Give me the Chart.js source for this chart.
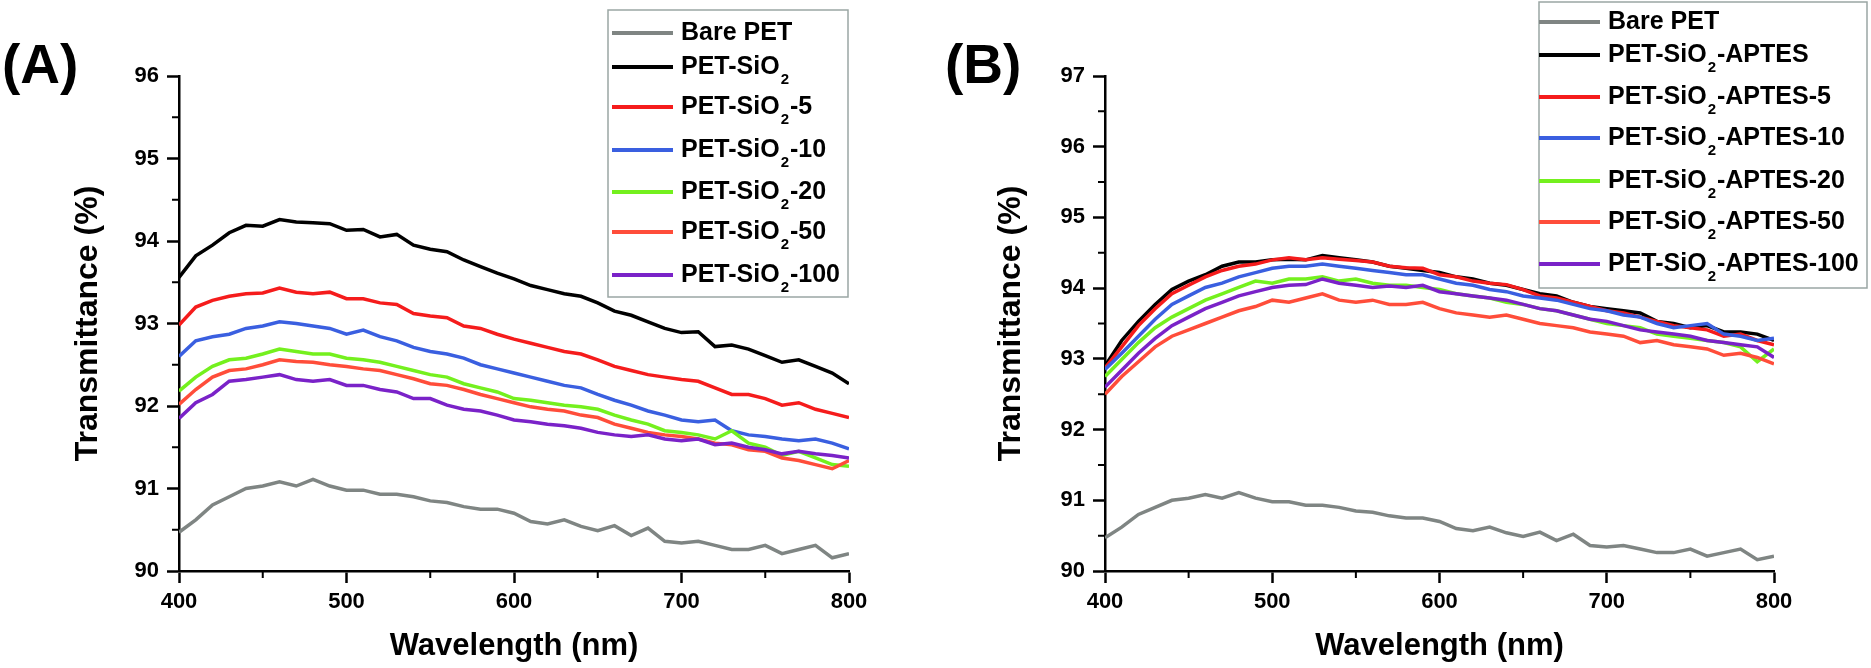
<!DOCTYPE html>
<html>
<head>
<meta charset="utf-8">
<title>Transmittance of PET films</title>
<script src="https://cdn.jsdelivr.net/npm/chart.js@4.4.1/dist/chart.umd.min.js"></script>
<style>
  body { margin: 0; background: #fff; }
  #wrap { width: 1871px; height: 668px; display: flex; }
  canvas { display: block; }
</style>
</head>
<body>
<div id="wrap">
  <canvas id="chartA" width="935" height="668"></canvas>
  <canvas id="chartB" width="936" height="668"></canvas>
</div>
<script>
var wavelength = [400,410,420,430,440,450,460,470,480,490,500,510,520,530,540,550,560,570,580,590,
  600,610,620,630,640,650,660,670,680,690,700,710,720,730,740,750,760,770,780,790,800];

var colors = ['#7f8583', '#000000', '#f51c1c', '#3a5fe0', '#74f01e', '#ff4d3a', '#7a22c8'];

// shared by both panels
var barePET = [90.47,90.62,90.8,90.9,91.0,91.03,91.08,91.03,91.11,91.03,
  90.98,90.98,90.93,90.93,90.9,90.85,90.83,90.78,90.75,90.75,
  90.7,90.6,90.57,90.62,90.54,90.49,90.55,90.43,90.52,90.36,
  90.34,90.36,90.31,90.26,90.26,90.31,90.21,90.26,90.31,90.16,90.21];

// panel A
var labelsA = ['Bare PET', 'PET-SiO₂', 'PET-SiO₂-5', 'PET-SiO₂-10', 'PET-SiO₂-20', 'PET-SiO₂-50', 'PET-SiO₂-100'];
var sio2 = [93.56,93.82,93.95,94.1,94.19,94.18,94.26,94.23,94.22,94.21,
  94.13,94.14,94.05,94.08,93.95,93.9,93.87,93.77,93.69,93.61,
  93.54,93.46,93.41,93.36,93.33,93.25,93.15,93.1,93.02,92.94,
  92.89,92.9,92.72,92.74,92.69,92.61,92.53,92.56,92.48,92.4,92.27];
var sio2_5 = [92.98,93.2,93.28,93.33,93.36,93.37,93.43,93.38,93.36,93.38,
  93.3,93.3,93.25,93.23,93.12,93.09,93.07,92.97,92.94,92.87,
  92.81,92.76,92.71,92.66,92.63,92.56,92.48,92.43,92.38,92.35,
  92.32,92.3,92.22,92.14,92.14,92.09,92.01,92.04,91.96,91.91,91.86];
var sio2_10 = [92.6,92.79,92.84,92.87,92.94,92.97,93.02,93.0,92.97,92.94,
  92.87,92.92,92.84,92.79,92.71,92.66,92.63,92.58,92.5,92.45,
  92.4,92.35,92.3,92.25,92.22,92.14,92.07,92.01,91.94,91.89,
  91.83,91.81,91.83,91.7,91.65,91.63,91.6,91.58,91.6,91.55,91.48];
var sio2_20 = [92.18,92.35,92.48,92.56,92.58,92.63,92.69,92.66,92.63,92.63,
  92.58,92.56,92.53,92.48,92.43,92.38,92.35,92.27,92.22,92.17,
  92.09,92.07,92.04,92.01,91.99,91.96,91.89,91.83,91.78,91.7,
  91.68,91.65,91.6,91.7,91.55,91.5,91.4,91.45,91.37,91.29,91.27];
var sio2_50 = [92.02,92.2,92.35,92.43,92.45,92.5,92.56,92.54,92.53,92.5,
  92.48,92.45,92.43,92.38,92.33,92.27,92.25,92.2,92.14,92.09,
  92.04,91.99,91.96,91.94,91.89,91.86,91.78,91.73,91.68,91.65,
  91.63,91.6,91.55,91.53,91.47,91.45,91.37,91.34,91.29,91.24,91.34];
var sio2_100 = [91.85,92.04,92.14,92.3,92.32,92.35,92.38,92.32,92.3,92.32,
  92.25,92.25,92.2,92.17,92.09,92.09,92.01,91.96,91.94,91.89,
  91.83,91.81,91.78,91.76,91.73,91.68,91.65,91.63,91.65,91.6,
  91.58,91.6,91.53,91.55,91.5,91.47,91.42,91.45,91.42,91.4,91.37];

// panel B
var labelsB = ['Bare PET', 'PET-SiO₂-APTES', 'PET-SiO₂-APTES-5', 'PET-SiO₂-APTES-10', 'PET-SiO₂-APTES-20', 'PET-SiO₂-APTES-50', 'PET-SiO₂-APTES-100'];
var aptes = [92.9,93.26,93.53,93.77,93.98,94.1,94.19,94.31,94.37,94.37,
  94.4,94.41,94.4,94.46,94.43,94.4,94.37,94.31,94.28,94.25,
  94.22,94.16,94.13,94.07,94.04,93.98,93.92,93.89,93.8,93.74,
  93.71,93.68,93.65,93.53,93.5,93.44,93.47,93.38,93.38,93.35,93.26];
var aptes_5 = [92.87,93.17,93.47,93.71,93.92,94.04,94.16,94.25,94.31,94.34,
  94.4,94.43,94.4,94.43,94.41,94.39,94.37,94.31,94.29,94.28,
  94.19,94.16,94.1,94.07,94.05,93.98,93.89,93.86,93.8,93.74,
  93.68,93.65,93.59,93.53,93.47,93.44,93.41,93.32,93.35,93.26,93.2];
var aptes_10 = [92.85,93.08,93.32,93.56,93.77,93.89,94.01,94.07,94.16,94.22,
  94.28,94.31,94.31,94.34,94.31,94.28,94.25,94.22,94.19,94.19,
  94.13,94.07,94.04,93.98,93.95,93.89,93.86,93.83,93.77,93.71,
  93.68,93.62,93.59,93.5,93.44,93.47,93.5,93.35,93.32,93.26,93.29];
var aptes_20 = [92.75,92.99,93.23,93.44,93.59,93.71,93.83,93.92,94.01,94.1,
  94.07,94.13,94.13,94.16,94.1,94.13,94.07,94.04,94.04,94.01,
  93.98,93.92,93.89,93.86,93.8,93.77,93.71,93.68,93.62,93.56,
  93.5,93.47,93.44,93.35,93.32,93.29,93.26,93.23,93.17,92.96,93.14];
var aptes_50 = [92.5,92.75,92.96,93.17,93.32,93.41,93.5,93.59,93.68,93.74,
  93.83,93.8,93.86,93.92,93.83,93.8,93.83,93.77,93.77,93.8,
  93.71,93.65,93.62,93.59,93.62,93.56,93.5,93.47,93.44,93.38,
  93.35,93.32,93.23,93.26,93.2,93.17,93.14,93.05,93.08,93.02,92.93];
var aptes_100 = [92.6,92.84,93.08,93.29,93.47,93.59,93.71,93.8,93.89,93.95,
  94.01,94.04,94.05,94.13,94.07,94.04,94.01,94.03,94.01,94.04,
  93.95,93.92,93.89,93.86,93.83,93.77,93.71,93.68,93.62,93.56,
  93.53,93.47,93.41,93.38,93.35,93.32,93.26,93.23,93.2,93.17,93.02];

var FONT = "'Liberation Sans', Arial, sans-serif";
Chart.defaults.font.family = FONT;
Chart.defaults.color = '#000';

// half-way ticks, shorter than the labelled ones
var minorTicks = {
  id: 'minorTicks',
  afterDraw: function(chart) {
    var ctx = chart.ctx, xs = chart.scales.x, ys = chart.scales.y;
    ctx.save();
    ctx.strokeStyle = '#000';
    ctx.lineWidth = 2;
    ctx.beginPath();
    for (var i = 0; i < ys.ticks.length - 1; i++) {
      var py = ys.getPixelForValue((ys.ticks[i].value + ys.ticks[i + 1].value) / 2);
      ctx.moveTo(ys.right - 7, py);
      ctx.lineTo(ys.right, py);
    }
    for (var j = 0; j < xs.ticks.length - 1; j++) {
      var px = xs.getPixelForValue((xs.ticks[j].value + xs.ticks[j + 1].value) / 2);
      ctx.moveTo(px, xs.top);
      ctx.lineTo(px, xs.top + 7);
    }
    ctx.stroke();
    ctx.restore();
  }
};

var panelTag = {
  id: 'panelTag',
  afterDraw: function(chart, args, opts) {
    var ctx = chart.ctx;
    ctx.save();
    ctx.font = 'bold 55px ' + FONT;
    ctx.fillStyle = '#000';
    ctx.textBaseline = 'alphabetic';
    ctx.fillText(opts.text, opts.x, opts.y);
    ctx.restore();
  }
};

// boxed legend, "₂" is drawn as a lowered small 2
var boxLegend = {
  id: 'boxLegend',
  afterDraw: function(chart, args, opts) {
    var ctx = chart.ctx;
    ctx.save();
    ctx.fillStyle = '#fff';
    ctx.fillRect(opts.x, opts.y, opts.w, opts.h);
    ctx.strokeStyle = '#9aa6a4';
    ctx.lineWidth = 1.5;
    ctx.strokeRect(opts.x, opts.y, opts.w, opts.h);
    chart.data.datasets.forEach(function(ds, i) {
      var cy = opts.rows[i];
      ctx.strokeStyle = ds.borderColor;
      ctx.lineWidth = 4;
      ctx.beginPath();
      ctx.moveTo(opts.lineX0, cy);
      ctx.lineTo(opts.lineX1, cy);
      ctx.stroke();

      var x = opts.textX;
      var parts = ds.label.split('₂');
      ctx.fillStyle = '#000';
      ctx.textBaseline = 'middle';
      parts.forEach(function(p, k) {
        ctx.font = 'bold 25px ' + FONT;
        ctx.fillText(p, x, cy);
        x += ctx.measureText(p).width;
        if (k < parts.length - 1) {
          ctx.font = 'bold 15px ' + FONT;
          ctx.fillText('2', x + 1, cy + 13);
          x += ctx.measureText('2').width + 2;
        }
      });
    });
    ctx.restore();
  }
};

function makeDatasets(labels, series) {
  return series.map(function(values, i) {
    return {
      label: labels[i],
      data: values,
      borderColor: colors[i],
      backgroundColor: colors[i],
      borderWidth: 3.5,
      pointRadius: 0,
      tension: 0,
      fill: false,
      order: -i
    };
  });
}

function makeChart(id, labels, series, yMax, g) {
  return new Chart(document.getElementById(id), {
    type: 'line',
    data: { labels: wavelength, datasets: makeDatasets(labels, series) },
    options: {
      responsive: false,
      animation: false,
      layout: { padding: { top: 76, right: g.right, bottom: 0, left: 0 } },
      scales: {
        x: {
          type: 'linear',
          min: 400, max: 800,
          ticks: { stepSize: 100, padding: 6, maxRotation: 0, font: { size: 22, weight: 'bold' } },
          grid: { drawOnChartArea: false, drawTicks: true, tickLength: 12, tickWidth: 2.5, tickColor: '#000' },
          border: { display: true, color: '#000', width: 2.5 },
          title: { display: true, text: 'Wavelength (nm)', font: { size: 31, weight: 'bold' }, padding: { top: 0, bottom: 3 } },
          afterFit: function(s) { s.height = 97; }
        },
        y: {
          min: 90, max: yMax,
          ticks: { stepSize: 1, padding: 8, font: { size: 22, weight: 'bold' } },
          grid: { drawOnChartArea: false, drawTicks: true, tickLength: 12, tickWidth: 2.5, tickColor: '#000' },
          border: { display: true, color: '#000', width: 2.5 },
          title: { display: true, text: 'Transmittance (%)', font: { size: 32, weight: 'bold' }, padding: { top: g.titlePad, bottom: 0 } },
          afterFit: function(s) { s.width = g.left; }
        }
      },
      plugins: {
        legend: { display: false },
        tooltip: { enabled: false },
        panelTag: g.tag,
        boxLegend: g.legend
      }
    },
    plugins: [minorTicks, panelTag, boxLegend]
  });
}

makeChart('chartA', labelsA, [barePET, sio2, sio2_5, sio2_10, sio2_20, sio2_50, sio2_100], 96, {
  left: 179, right: 86, titlePad: 69,
  tag: { text: '(A)', x: 2, y: 83 },
  legend: { x: 608, y: 10, w: 240, h: 287, lineX0: 612, lineX1: 673, textX: 681,
            rows: [33, 67, 107, 150, 192, 232, 275] }
});

makeChart('chartB', labelsB, [barePET, aptes, aptes_5, aptes_10, aptes_20, aptes_50, aptes_100], 97, {
  left: 170, right: 97, titlePad: 57,
  tag: { text: '(B)', x: 10, y: 83 },
  legend: { x: 604, y: 2, w: 328, h: 286, lineX0: 604, lineX1: 665, textX: 673,
            rows: [22, 55, 97, 138, 181, 222, 264] }
});
</script>
</body>
</html>
